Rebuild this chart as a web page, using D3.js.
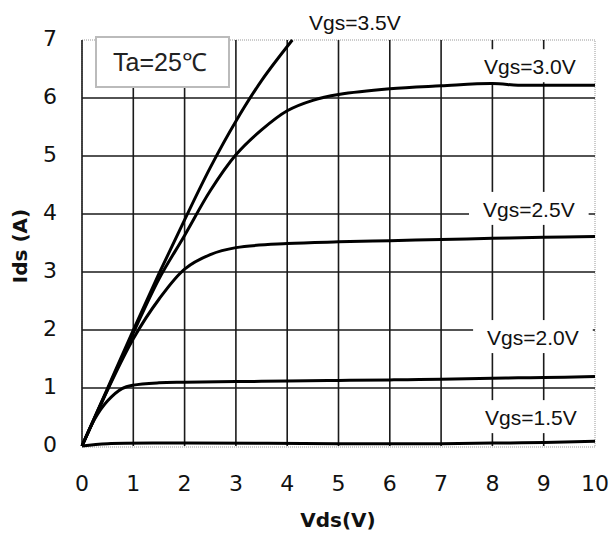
<!doctype html>
<html lang="en">
  <head>
    <meta charset="utf-8"/>
    <title>Ids vs Vds</title>
    <script src="https://d3js.org/d3.v7.min.js"></script>
    <style>
      body { margin: 0; background: #fff; }
      svg { display: block; }
    </style>
  </head>
  <body>
    <div id="chart"></div>
    <script>
      // tick values
      var xTicks = [0, 1, 2, 3, 4, 5, 6, 7, 8, 9, 10];
      var yTicks = [0, 1, 2, 3, 4, 5, 6, 7];

      // curves: [Vds, Ids]
      var vgs35 = [[0, 0], [0.5, 1.0], [1, 2.0], [1.5, 2.97], [2, 3.9], [2.5, 4.8], [3, 5.6], [3.5, 6.3], [4.1, 7.0]];
      var vgs30 = [[0, 0], [0.5, 0.98], [1, 1.95], [1.5, 2.88], [2, 3.63], [2.5, 4.4], [3, 5.02], [3.5, 5.45], [4, 5.78], [4.5, 5.96], [5, 6.06], [6, 6.16], [7, 6.21], [8, 6.25], [8.5, 6.22], [9, 6.22], [10, 6.22]];
      var vgs25 = [[0, 0], [0.5, 0.97], [1, 1.85], [1.5, 2.53], [2, 3.05], [2.5, 3.3], [3, 3.42], [4, 3.49], [5, 3.52], [6, 3.54], [7, 3.56], [8, 3.58], [9, 3.6], [10, 3.61]];
      var vgs20 = [[0, 0], [0.25, 0.47], [0.5, 0.78], [0.78, 0.99], [1, 1.05], [1.5, 1.09], [2, 1.1], [3, 1.11], [4, 1.12], [5, 1.13], [6, 1.14], [7, 1.15], [8, 1.17], [9, 1.18], [10, 1.2]];
      var vgs15 = [[0, 0], [0.5, 0.04], [2, 0.05], [5, 0.04], [7, 0.04], [8, 0.05], [9, 0.06], [10, 0.08]];

      var seriesData = [vgs35, vgs30, vgs25, vgs20, vgs15];
      var seriesNames = ["Vgs=3.5V", "Vgs=3.0V", "Vgs=2.5V", "Vgs=2.0V", "Vgs=1.5V"];
      // label anchor in data units (centre x, baseline y)
      var labelPos = [[5.32, 7.17], [8.73, 6.41], [8.71, 3.95], [8.79, 1.74], [8.75, 0.36]];

      var w = 612;
      var h = 534;
      var padL = 82, padR = 595, padT = 40, padB = 446;

      var svg = d3.select("#chart")
        .append("svg")
        .attr("width", w)
        .attr("height", h);

      var xScale = d3.scaleLinear().domain([0, 10]).range([padL, padR]);
      var yScale = d3.scaleLinear().domain([0, 7]).range([padB, padT]);

      // frame (light dotted)
      svg.append("rect")
        .attr("x", padL)
        .attr("y", padT)
        .attr("width", padR - padL)
        .attr("height", padB - padT + 1)
        .attr("fill", "none")
        .attr("stroke", "#999")
        .attr("stroke-width", 1)
        .attr("stroke-dasharray", "1,1");

      // grid lines
      svg.selectAll("line.vgrid")
        .data(xTicks.filter(function(d) { return d < 10; }))
        .enter()
        .append("line")
        .attr("class", "vgrid")
        .attr("x1", function(d) { return xScale(d); })
        .attr("x2", function(d) { return xScale(d); })
        .attr("y1", padT)
        .attr("y2", padB)
        .attr("stroke", "#1a1a1a")
        .attr("stroke-width", 1.6);

      svg.selectAll("line.hgrid")
        .data(yTicks.filter(function(d) { return d > 0 && d < 7; }))
        .enter()
        .append("line")
        .attr("class", "hgrid")
        .attr("x1", padL)
        .attr("x2", padR)
        .attr("y1", function(d) { return yScale(d); })
        .attr("y2", function(d) { return yScale(d); })
        .attr("stroke", "#1a1a1a")
        .attr("stroke-width", 1.6);

      // tick labels
      svg.selectAll("text.ytick")
        .data(yTicks)
        .enter()
        .append("text")
        .attr("class", "ytick")
        .attr("x", 50)
        .attr("y", function(d) { return yScale(d) + 6; })
        .attr("text-anchor", "middle")
        .attr("font-family", "DejaVu Sans, sans-serif")
        .attr("font-size", "22px")
        .attr("fill", "#111")
        .text(function(d) { return d; });

      svg.selectAll("text.xtick")
        .data(xTicks)
        .enter()
        .append("text")
        .attr("class", "xtick")
        .attr("x", function(d) { return xScale(d); })
        .attr("y", 491)
        .attr("text-anchor", "middle")
        .attr("font-family", "DejaVu Sans, sans-serif")
        .attr("font-size", "22px")
        .attr("fill", "#111")
        .text(function(d) { return d; });

      // axis titles
      svg.append("text")
        .attr("x", 338)
        .attr("y", 527)
        .attr("text-anchor", "middle")
        .attr("font-family", "DejaVu Sans, sans-serif")
        .attr("font-weight", "bold")
        .attr("font-size", "20px")
        .attr("fill", "#111")
        .text("Vds(V)");

      svg.append("text")
        .attr("transform", "translate(27,246) rotate(-90)")
        .attr("text-anchor", "middle")
        .attr("font-family", "DejaVu Sans, sans-serif")
        .attr("font-weight", "bold")
        .attr("font-size", "20px")
        .attr("fill", "#111")
        .text("Ids (A)");

      // series labels with white boxes behind them
      var labels = svg.selectAll("g.lab")
        .data(seriesNames)
        .enter()
        .append("g")
        .attr("class", "lab");

      labels.append("rect").attr("fill", "#fff");
      labels.append("text")
        .attr("x", function(d, i) { return xScale(labelPos[i][0]); })
        .attr("y", function(d, i) { return yScale(labelPos[i][1]); })
        .attr("text-anchor", "middle")
        .attr("font-family", "Liberation Sans, Arial, sans-serif")
        .attr("font-size", "21px")
        .attr("fill", "#111")
        .text(function(d) { return d; });

      labels.each(function() {
        var g = d3.select(this);
        var bb = g.select("text").node().getBBox();
        g.select("rect")
          .attr("x", bb.x - 14)
          .attr("y", bb.y - 6)
          .attr("width", bb.width + 28)
          .attr("height", bb.height + 10);
      });

      // temperature box
      svg.append("rect")
        .attr("x", 96)
        .attr("y", 37)
        .attr("width", 133)
        .attr("height", 50)
        .attr("fill", "#fff")
        .attr("stroke", "#bbb")
        .attr("stroke-width", 2);

      svg.append("text")
        .attr("x", 160)
        .attr("y", 71)
        .attr("text-anchor", "middle")
        .attr("font-family", "Liberation Sans, Arial, sans-serif")
        .attr("font-size", "25px")
        .attr("fill", "#222")
        .text("Ta=25\u2103");

      // curves
      var line = d3.line()
        .x(function(d) { return xScale(d[0]); })
        .y(function(d) { return yScale(d[1]); })
        .curve(d3.curveCatmullRom.alpha(0.5));

      svg.selectAll("path.curve")
        .data(seriesData)
        .enter()
        .append("path")
        .attr("class", "curve")
        .attr("d", line)
        .attr("fill", "none")
        .attr("stroke", "#000")
        .attr("stroke-width", 3)
        .attr("stroke-linejoin", "round");
    </script>
  </body>
</html>
